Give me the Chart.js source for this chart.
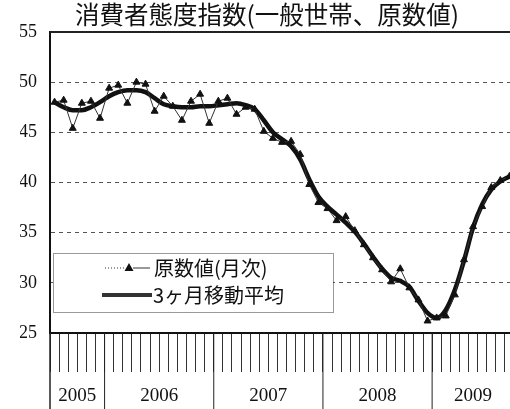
<!DOCTYPE html>
<html>
<head>
<meta charset="utf-8">
<script src="https://cdn.jsdelivr.net/npm/chart.js@4.4.1/dist/chart.umd.min.js"></script>
<style>
  html, body { margin: 0; padding: 0; background: #fff; overflow: hidden; }
  #wrap { width: 530px; height: 409px; }
</style>
</head>
<body>
<div id="wrap"><canvas id="cci" width="530" height="409"></canvas></div>
<script>
// survey months: Jul 2005 .. Sep 2009
var years = ['2005', '2006', '2007', '2008', '2009'];
var monthsPerYear = [6, 12, 12, 12, 9];
var firstMonth = 7;

// 原数値(月次)
var rawIndex = [
  48.0, 48.2, 45.4, 47.9, 48.1, 46.4,
  49.4, 49.7, 47.9, 50.0, 49.8, 47.1, 48.6, 47.6, 46.2, 48.1, 48.8, 45.9,
  48.1, 48.4, 46.8, 47.5, 47.3, 45.1, 44.4, 44.0, 44.1, 42.8, 39.8, 38.0,
  37.4, 36.2, 36.6, 35.2, 33.8, 32.5, 31.3, 30.1, 31.4, 29.5, 28.3, 26.2,
  26.5, 26.7, 28.8, 32.3, 35.6, 37.6, 39.5, 40.2, 40.6
];

// 3ヶ月移動平均
var movingAvg = [
  48.0, 47.5, 47.2, 47.2, 47.5, 48.0,
  48.6, 49.0, 49.2, 49.2, 49.0, 48.4, 47.8, 47.6, 47.5, 47.5, 47.6, 47.6,
  47.7, 47.8, 47.9, 47.7, 47.3, 46.2, 45.0, 44.3, 43.6, 42.3, 40.3, 38.6,
  37.6, 36.8, 36.0, 35.1, 33.9, 32.6, 31.4, 30.5, 30.2, 29.6, 28.2, 27.0,
  26.5, 27.3, 29.3, 32.2, 35.5, 37.8, 39.3, 40.1, 40.6
];

var yMin = 25, yMax = 55, yStep = 5;

var labels = [];
(function () {
  var m = firstMonth;
  for (var k = 0; k < years.length; k++) {
    for (var j = 0; j < monthsPerYear[k]; j++) {
      labels.push(years[k] + '/' + m);
      m = m % 12 + 1;
    }
  }
})();

var serif = '"Liberation Serif", "DejaVu Serif", serif';
var cjk = '"Noto Sans CJK JP", sans-serif';

// year bands under the axis, top frame line and the boxed legend
var framePlugin = {
  id: 'frame',
  afterDraw: function (chart) {
    var ctx = chart.ctx, ca = chart.chartArea;
    var x = chart.scales.x, y = chart.scales.y;
    ctx.save();

    // top frame
    ctx.strokeStyle = '#222';
    ctx.lineWidth = 2;
    ctx.beginPath();
    ctx.moveTo(ca.left, y.getPixelForValue(yMax));
    ctx.lineTo(ca.right, y.getPixelForValue(yMax));
    ctx.stroke();

    // left axis runs down through the year row
    ctx.lineWidth = 1.5;
    ctx.beginPath();
    ctx.moveTo(ca.left, ca.bottom);
    ctx.lineTo(ca.left, chart.height);
    ctx.stroke();

    ctx.font = '19px ' + serif;
    ctx.fillStyle = '#111';
    ctx.textAlign = 'center';
    ctx.textBaseline = 'middle';
    var start = 0;
    for (var k = 0; k < years.length; k++) {
      var end = start + monthsPerYear[k] - 1;
      var x0 = start === 0 ? ca.left
        : (x.getPixelForValue(start - 1) + x.getPixelForValue(start)) / 2;
      var x1 = end === labels.length - 1 ? ca.right
        : (x.getPixelForValue(end) + x.getPixelForValue(end + 1)) / 2;
      if (start > 0) {
        ctx.lineWidth = 1;
        ctx.beginPath();
        ctx.moveTo(x0, ca.bottom);
        ctx.lineTo(x0, chart.height);
        ctx.stroke();
      }
      ctx.fillText(years[k], (x0 + x1) / 2, ca.bottom + 63);
      start = end + 1;
    }

    // legend box
    var bx = ca.left + 3, by = ca.bottom - 80, bw = 280, bh = 59;
    ctx.fillStyle = '#fff';
    ctx.fillRect(bx, by, bw, bh);
    ctx.strokeStyle = '#333';
    ctx.lineWidth = 1;
    ctx.setLineDash([1, 1]);
    ctx.strokeRect(bx + 0.5, by + 0.5, bw, bh);

    var r1 = by + 15, r2 = by + 42;
    ctx.setLineDash([1, 2]);
    ctx.beginPath();
    ctx.moveTo(bx + 52, r1);
    ctx.lineTo(bx + 72, r1);
    ctx.stroke();
    ctx.setLineDash([]);
    ctx.beginPath();
    ctx.moveTo(bx + 80, r1);
    ctx.lineTo(bx + 97, r1);
    ctx.stroke();
    ctx.fillStyle = '#111';
    ctx.beginPath();
    ctx.moveTo(bx + 76, r1 - 5);
    ctx.lineTo(bx + 80.5, r1 + 3);
    ctx.lineTo(bx + 71.5, r1 + 3);
    ctx.closePath();
    ctx.fill();

    ctx.lineWidth = 4;
    ctx.beginPath();
    ctx.moveTo(bx + 49, r2);
    ctx.lineTo(bx + 99, r2);
    ctx.stroke();

    ctx.font = '20px ' + cjk;
    ctx.textAlign = 'left';
    ctx.fillText('原数値(月次)', bx + 101, r1);
    ctx.fillText('3ヶ月移動平均', bx + 100, r2);
    ctx.restore();
  }
};

new Chart(document.getElementById('cci'), {
  type: 'line',
  data: {
    labels: labels,
    datasets: [
      {
        label: '原数値(月次)',
        data: rawIndex,
        borderColor: '#333',
        borderWidth: 1,
        pointStyle: 'triangle',
        pointRadius: 4,
        pointBackgroundColor: '#111',
        pointBorderColor: '#111',
        pointBorderWidth: 1,
        tension: 0
      },
      {
        label: '3ヶ月移動平均',
        data: movingAvg,
        borderColor: '#111',
        borderWidth: 4.5,
        pointRadius: 0,
        cubicInterpolationMode: 'monotone'
      }
    ]
  },
  options: {
    responsive: false,
    animation: false,
    layout: { padding: { left: 20, right: 16, top: 0, bottom: 0 } },
    plugins: {
      legend: { display: false },
      tooltip: { enabled: false },
      title: {
        display: true,
        text: '消費者態度指数(一般世帯、原数値)',
        color: '#111',
        font: { family: cjk, size: 24.5, weight: 'normal', lineHeight: 1.1 },
        padding: { top: 1, bottom: 4 }
      }
    },
    scales: {
      x: {
        type: 'category',
        offset: true,
        grid: {
          offset: true,
          drawOnChartArea: false,
          tickLength: 39,
          color: '#333',
          lineWidth: 1
        },
        border: { color: '#111', width: 2 },
        ticks: { display: false },
        afterFit: function (s) { s.height = 76; }
      },
      y: {
        min: yMin,
        max: yMax,
        grid: {
          color: '#555',
          lineWidth: 1,
          drawTicks: false
        },
        border: { color: '#111', width: 2, dash: [4, 4] },
        ticks: {
          stepSize: yStep,
          padding: 13,
          color: '#111',
          font: { family: serif, size: 18 }
        },
        afterFit: function (s) { s.width = 30; }
      }
    }
  },
  plugins: [framePlugin]
});
</script>
</body>
</html>
